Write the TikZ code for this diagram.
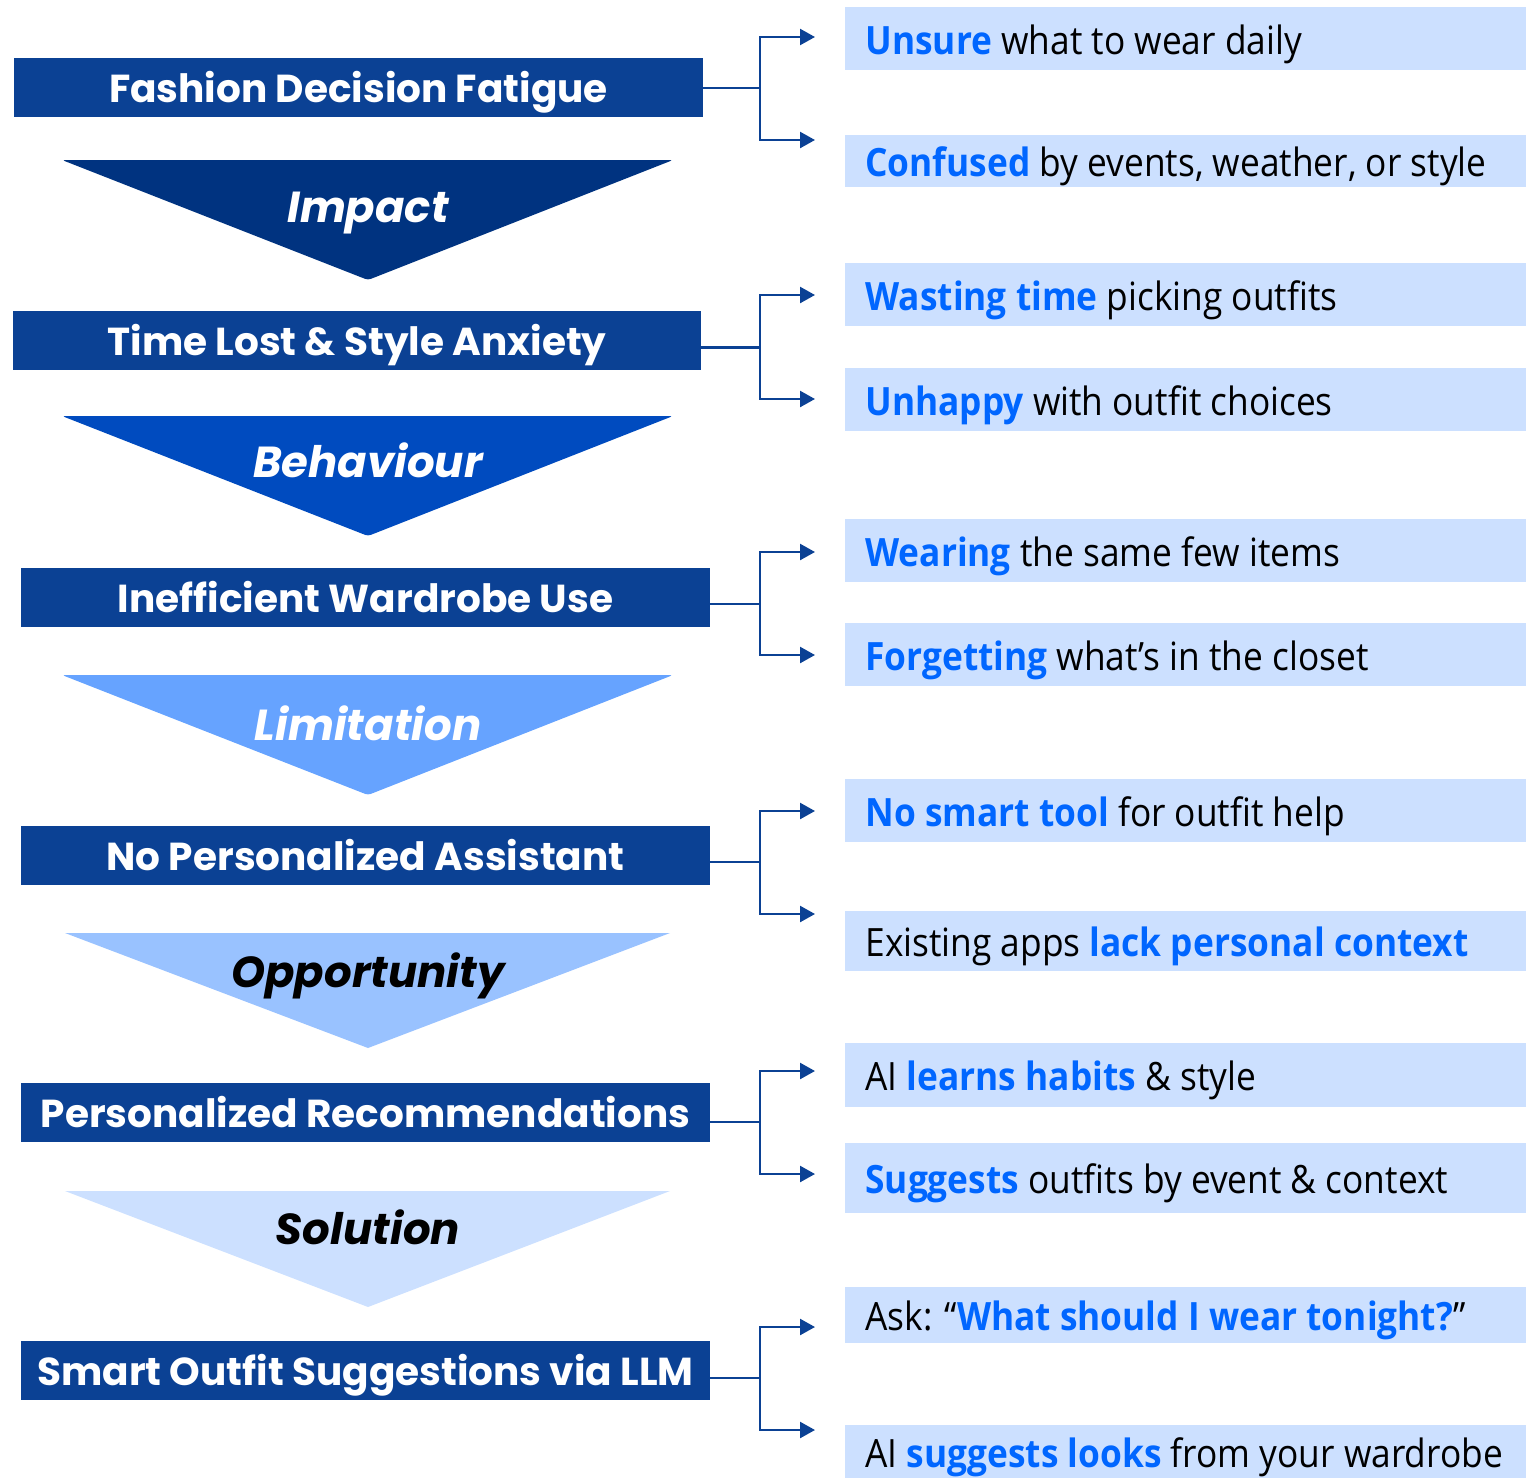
\documentclass[tikz,border=0pt]{standalone}
\usepackage{fontspec}
\usetikzlibrary{arrows.meta}
\newfontfamily\popfont{Poppins}
\newfontfamily\segfont[FakeStretch=0.905]{Open Sans}
\definecolor{boxblue}{HTML}{0B4194}
\definecolor{triA}{HTML}{003380}
\definecolor{triB}{HTML}{004BBF}
\definecolor{triC}{HTML}{66A3FF}
\definecolor{triD}{HTML}{99C2FF}
\definecolor{triE}{HTML}{CCE0FF}
\definecolor{lightbox}{HTML}{CCE0FF}
\definecolor{hlblue}{HTML}{0066FF}
\newcommand{\hlb}[1]{\textcolor{hlblue}{\bfseries #1}}
\newcommand{\rtxt}[1]{\makebox[320.5pt][l]{#1}}
\begin{document}
\begin{tikzpicture}[x=0.5pt,y=-0.5pt,
  lbox/.style={fill=boxblue, text=white, inner sep=0pt, minimum height=29.5pt,
    font=\popfont\bfseries\fontsize{19.5}{22}\selectfont, text height=15pt, text depth=0pt},
  rbox/.style={fill=lightbox, anchor=west, inner xsep=10pt, inner ysep=0pt, minimum width=340.5pt,
    font=\segfont\fontsize{19.5}{22}\selectfont, text height=15.5pt, text depth=0pt},
  trilabel/.style={anchor=base, font=\popfont\bfseries\itshape\fontsize{21.7}{24}\selectfont},
  conn/.style={draw=boxblue, line width=1.2pt},
  arr/.style={conn, -{Triangle[length=7.5pt,width=8pt]}}
]
\useasboundingbox (0,0) rectangle (1526,1478);

% left boxes
\node[lbox, minimum width=344.5pt] (l1) at (358.5,87.5) {Fashion Decision Fatigue};
\node[lbox, minimum width=344pt] (l2) at (357,340.5) {Time Lost \& Style Anxiety};
\node[lbox, minimum width=344.5pt] (l3) at (365.5,597.5) {Inefficient Wardrobe Use};
\node[lbox, minimum width=344.5pt] (l4) at (365.5,855.5) {No Personalized Assistant};
\node[lbox, minimum width=344.5pt] (l5) at (365.5,1112.5) {Personalized Recommendations};
\node[lbox, minimum width=344.5pt] (l6) at (365.5,1370.5) {Smart Outfit Suggestions via LLM};

% triangles
\fill[triA, rounded corners=1.5pt] (62,160) -- (673,160) -- (368,280) -- cycle;
\fill[triB, rounded corners=1.5pt] (62,416) -- (673,416) -- (368,536) -- cycle;
\fill[triC, rounded corners=1.5pt] (62,675) -- (673,675) -- (368,795) -- cycle;
\fill[triD] (65,933) -- (670,933) -- (368,1048) -- cycle;
\fill[triE] (65,1191) -- (670,1191) -- (368,1307) -- cycle;
\node[trilabel, text=white] (t1) at (368,222) {Impact};
\node[trilabel, text=white] (t2) at (368,477) {Behaviour};
\node[trilabel, text=white] (t3) at (368,740) {Limitation};
\node[trilabel, text=black] (t4) at (368,987) {Opportunity};
\node[trilabel, text=black] (t5) at (368,1244) {Solution};

% right boxes
\node[rbox, minimum height=31.5pt] (r1) at (845,38.5) {\rtxt{\hlb{Unsure} what to wear daily}};
\node[rbox, minimum height=26pt] (r2) at (845,161) {\rtxt{\hlb{Confused} by events, weather, or style}};
\node[rbox, minimum height=31.5pt] (r3) at (845,294.5) {\rtxt{\hlb{Wasting time} picking outfits}};
\node[rbox, minimum height=31.5pt] (r4) at (845,399.5) {\rtxt{\hlb{Unhappy} with outfit choices}};
\node[rbox, minimum height=31.5pt] (r5) at (845,550.5) {\rtxt{\hlb{Wearing} the same few items}};
\node[rbox, minimum height=31.5pt] (r6) at (845,654.5) {\rtxt{\hlb{Forgetting} what’s in the closet}};
\node[rbox, minimum height=31.5pt] (r7) at (845,810.5) {\rtxt{\hlb{No smart tool} for outfit help}};
\node[rbox, minimum height=30pt] (r8) at (845,940.7) {\rtxt{Existing apps \hlb{lack personal context}}};
\node[rbox, minimum height=32pt] (r9) at (845,1074.7) {\rtxt{AI \hlb{learns habits} \& style}};
\node[rbox, minimum height=35pt] (r10) at (845,1178) {\rtxt{\hlb{Suggests} outfits by event \& context}};
\node[rbox, minimum height=28pt] (r11) at (845,1315) {\rtxt{Ask: “\hlb{What should I wear tonight?}”}};
\node[rbox, minimum height=26.5pt] (r12) at (845,1451.5) {\rtxt{AI \hlb{suggests looks} from your wardrobe}};

% connectors
\foreach \i/\yj/\ya/\yb in {1/88/37/140, 2/347.5/295/399, 3/604/552/655, 4/862/811/914, 5/1122/1071/1174, 6/1378/1327/1430} {
  \coordinate (j\i) at (760,\yj);
  \coordinate (a\i) at (815,\ya);
  \coordinate (b\i) at (815,\yb);
  \draw[conn] (l\i.east |- j\i) -- (j\i);
  \draw[arr] (j\i) |- (a\i);
  \draw[arr] (j\i) |- (b\i);
}
\end{tikzpicture}
\end{document}
